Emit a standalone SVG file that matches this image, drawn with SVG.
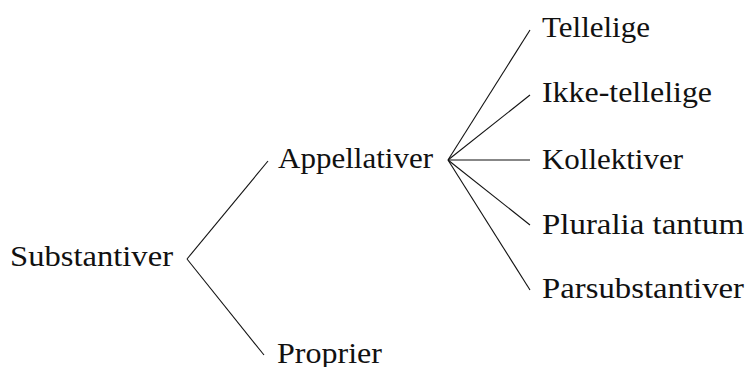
<svg xmlns="http://www.w3.org/2000/svg" width="749" height="367" viewBox="0 0 749 367">
<style>
text{font-family:"Liberation Serif","DejaVu Serif",serif;font-size:30px;fill:#111}
.c line{stroke:#111;stroke-width:1.1;fill:none}
</style>
<rect width="749" height="367" fill="#fff"/>
<g class="c" id="connectors">
<line x1="187" y1="259" x2="268" y2="161"/>
<line x1="187" y1="259" x2="264" y2="355"/>
<line x1="448" y1="160" x2="530" y2="30"/>
<line x1="448" y1="160" x2="530" y2="95"/>
<line x1="448" y1="160" x2="530" y2="160"/>
<line x1="448" y1="160" x2="530" y2="225"/>
<line x1="448" y1="160" x2="530" y2="290"/>
</g>
<g id="n-substantiver"><text x="10" y="266" textLength="163" lengthAdjust="spacingAndGlyphs">Substantiver</text></g>
<g id="n-appellativer"><text x="278" y="168" textLength="155" lengthAdjust="spacingAndGlyphs">Appellativer</text></g>
<g id="n-proprier"><text x="277" y="363" textLength="105" lengthAdjust="spacingAndGlyphs">Proprier</text></g>
<g id="n-tellelige"><text x="542" y="37" textLength="108" lengthAdjust="spacingAndGlyphs">Tellelige</text></g>
<g id="n-ikke"><text x="542" y="102" textLength="170" lengthAdjust="spacingAndGlyphs">Ikke-tellelige</text></g>
<g id="n-kollektiver"><text x="542" y="169" textLength="141" lengthAdjust="spacingAndGlyphs">Kollektiver</text></g>
<g id="n-pluralia"><text x="542" y="234" textLength="202" lengthAdjust="spacingAndGlyphs">Pluralia tantum</text></g>
<g id="n-parsub"><text x="542" y="298" textLength="202" lengthAdjust="spacingAndGlyphs">Parsubstantiver</text></g>
</svg>
